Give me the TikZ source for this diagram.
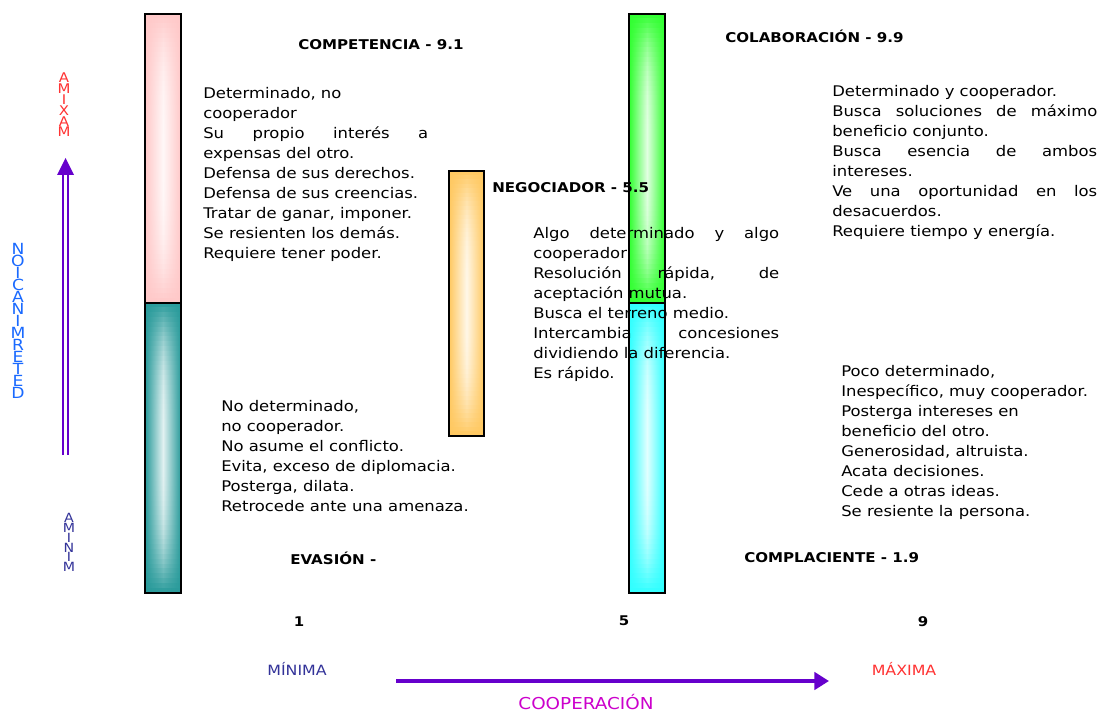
\documentclass[tikz,border=0pt]{standalone}
\usepackage{fontspec}
\setmainfont[FakeStretch=1.12]{DejaVu Sans}
\usetikzlibrary{arrows.meta}
\definecolor{pinkc}{HTML}{FFC8C8}
\definecolor{tealc}{HTML}{289A9A}
\definecolor{orangec}{HTML}{FFC860}
\definecolor{greenc}{HTML}{30FF30}
\definecolor{cyanc}{HTML}{30FFFF}
\definecolor{arrowc}{HTML}{6600CC}
\definecolor{coopc}{HTML}{CC00CC}
\definecolor{minc}{HTML}{333399}
\definecolor{maxc}{HTML}{FF3333}
\definecolor{detc}{HTML}{1A6AFF}
% #1 x1, #2 y1, #3 x2, #4 y2, #5 colour
\newcommand\shadebar[5]{%
  \pgfmathsetmacro\hstep{(#4-#2)/60}%
  \foreach \i in {0,...,59}{%
    \pgfmathsetmacro\ya{#2+\hstep*\i}%
    \pgfmathsetmacro\yb{#2+\hstep*(\i+1)+0.6}%
    \pgfmathsetmacro\dd{abs((\i+0.5)/60-0.5)*2}%
    \pgfmathsetmacro\pp{14+86*\dd*\dd*\dd}%
    \fill[left color=#5, right color=#5, middle color=#5!\pp!white] (#1,\ya) rectangle (#3,\yb);
  }%
}
\newcommand\jl[2]{\makebox[#1][s]{#2}}
\tikzset{
  body/.style={font=\fontsize{11}{15}\selectfont, align=left, inner sep=0pt, anchor=north west},
  title/.style={font=\fontsize{10.1}{12}\bfseries\selectfont, inner sep=0pt, anchor=base west},
  num/.style={font=\fontsize{10}{12}\bfseries\selectfont, inner sep=0pt, anchor=base},
  axislabel/.style={font=\fontsize{10.6}{12}\selectfont, inner sep=0pt, anchor=base},
  stack/.style={align=center, inner sep=0pt, anchor=north},
  barline/.style={draw=black, line width=1.5pt},
}
\begin{document}
\begin{tikzpicture}[x=0.75pt,y=-0.75pt]
\useasboundingbox (0,0) rectangle (1099,713);
\fill[white] (0,0) rectangle (1099,713);

% bars
\shadebar{145}{14}{181}{303}{pinkc}
\shadebar{145}{303}{181}{593}{tealc}
\shadebar{449}{171}{484}{436}{orangec}
\shadebar{629}{14}{665}{303}{greenc}
\shadebar{629}{303}{665}{593}{cyanc}
\draw[barline] (145,14) rectangle (181,303);
\draw[barline] (145,303) rectangle (181,593);
\draw[barline] (449,171) rectangle (484,436);
\draw[barline] (629,14) rectangle (665,303);
\draw[barline] (629,303) rectangle (665,593);

% titles
\node[title] (tcomp) at (298,50) {COMPETENCIA - 9.1};
\node[title] (tneg) at (492,192) {NEGOCIADOR - 5.5};
\node[title] (tcol) at (725,43) {COLABORACIÓN - 9.9};
\node[title] (teva) at (290,564) {EVASIÓN -};
\node[title] (tcpl) at (744,562) {COMPLACIENTE - 1.9};

% body texts
\node[body] (bcomp) at (203,87) {Determinado, no\\
cooperador\\
\jl{168.75pt}{Su propio interés a}\\
expensas del otro.\\
Defensa de sus derechos.\\
Defensa de sus creencias.\\
Tratar de ganar, imponer.\\
Se resienten los demás.\\
Requiere tener poder.};

\node[body] (bneg) at (533,227) {\jl{184.5pt}{Algo determinado y algo}\\
cooperador\\
\jl{184.5pt}{Resolución rápida, de}\\
aceptación mutua.\\
Busca el terreno medio.\\
\jl{184.5pt}{Intercambia concesiones}\\
dividiendo la diferencia.\\
Es rápido.};

\node[body] (bcol) at (832,85) {Determinado y cooperador.\\
\jl{198.75pt}{Busca soluciones de máximo}\\
beneficio conjunto.\\
\jl{198.75pt}{Busca esencia de ambos}\\
intereses.\\
\jl{198.75pt}{Ve una oportunidad en los}\\
desacuerdos.\\
Requiere tiempo y energía.};

\node[body] (beva) at (221,400) {No determinado,\\
no cooperador.\\
No asume el conflicto.\\
Evita, exceso de diplomacia.\\
Posterga, dilata.\\
Retrocede ante una amenaza.};

\node[body] (bcpl) at (841,365) {Poco determinado,\\
Inespecífico, muy cooperador.\\
Posterga intereses en\\
beneficio del otro.\\
Generosidad, altruista.\\
Acata decisiones.\\
Cede a otras ideas.\\
Se resiente la persona.};

% scale numbers
\node[num] (n1) at (299,626) {1};
\node[num] (n5) at (624,625) {5};
\node[num] (n9) at (923,626) {9};

% horizontal axis
\node[axislabel, text=minc] (hmin) at (297,675) {MÍNIMA};
\node[axislabel, text=maxc] (hmax) at (904,675) {MÁXIMA};
\node[font=\fontsize{12.3}{14}\selectfont, text=coopc, inner sep=0pt, anchor=base] (coop) at (586,709) {COOPERACIÓN};
\coordinate (hs) at (396,681);
\coordinate (he) at (829,681);
\draw[arrowc, line width=3.4pt, -{Triangle[length=11pt,width=13pt]}] (hs) -- (he);

% vertical axis
\node[stack, text=maxc, font={\fontsize{10}{8.1}\selectfont\lineskiplimit=-20pt}] (vmax) at (64,73) {A\\M\\I\\X\\A\\M};
\node[stack, text=detc, font={\fontsize{11.5}{9}\selectfont\lineskiplimit=-20pt}] (vdet) at (18,243) {N\\O\\I\\C\\A\\N\\I\\M\\R\\E\\T\\E\\D};
\node[stack, text=minc, font={\fontsize{9.5}{7.4}\selectfont\lineskiplimit=-20pt}] (vmin) at (69,513) {A\\M\\I\\N\\I\\M};
\coordinate (vs) at (65.5,455);
\coordinate (vb) at (65.5,173);
\coordinate (vt) at (65.5,158);
\coordinate (vl) at (57,175);
\coordinate (vr) at (74,175);
\draw[arrowc, double=white, double distance=1.8pt, line width=1.6pt] (vs) -- (vb);
\fill[arrowc] (vt) -- (vl) -- (vr) -- cycle;
\end{tikzpicture}
\end{document}
